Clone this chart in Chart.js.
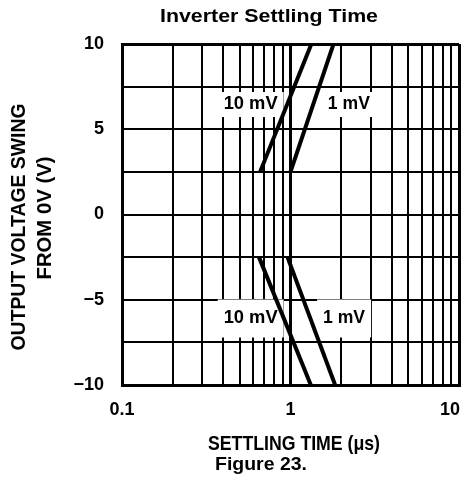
<!DOCTYPE html>
<html>
<head>
<meta charset="utf-8">
<script src="https://cdn.jsdelivr.net/npm/chart.js@4/dist/chart.umd.min.js"></script>
<style>
  body { margin: 0; background: #fff; }
  canvas { display: block; }
</style>
</head>
<body>
<canvas id="chart" width="468" height="486"></canvas>
<script>
const TITLE = 'Inverter Settling Time';
const X_TITLE = 'SETTLING TIME (\u03bcs)';
const Y_TITLE = ['OUTPUT VOLTAGE SWING', 'FROM 0V (V)'];
const CAPTION = 'Figure 23.';

// log grid 0.1 .. 10
const X_GRID = [0.1, 0.2, 0.3, 0.4, 0.5, 0.6, 0.7, 0.8, 0.9, 1, 2, 3, 4, 5, 6, 7, 8, 9, 10];
const X_LABELS = [0.1, 1, 10];
const Y_GRID = [-10, -7.5, -5, -2.5, 0, 2.5, 5, 7.5, 10];
const Y_LABELS = [10, 5, 0, -5, -10];

// settling curves
const POS_10MV_X = [0.66, 1.33];
const POS_10MV_Y = [2.5, 10];
const POS_1MV_X = [1.0, 1.8];
const POS_1MV_Y = [2.5, 10];
const NEG_10MV_X = [0.65, 1.32];
const NEG_10MV_Y = [-2.5, -10];
const NEG_1MV_X = [0.96, 1.84];
const NEG_1MV_Y = [-2.5, -10];

const CURVE_TEXT = ['10 mV', '1 mV', '10 mV', '1 mV'];
const CURVE_TEXT_X = [0.58, 2.22, 0.58, 2.08];
const CURVE_TEXT_Y = [6.45, 6.45, -6.1, -6.1];

function pts(xs, ys) {
    return xs.map((x, i) => ({ x: x, y: ys[i] }));
}

function font(size) {
    return 'bold ' + size + 'px "Liberation Sans", Arial, sans-serif';
}

// draw text, optionally squeezed/stretched to a width
function drawText(ctx, text, x, y, size, width, rot, align) {
    ctx.save();
    ctx.translate(x, y);
    if (rot) ctx.rotate(rot);
    ctx.font = font(size);
    if (width) {
        const w = ctx.measureText(text).width;
        ctx.scale(width / w, 1);
    }
    ctx.textAlign = align || 'center';
    ctx.textBaseline = 'middle';
    ctx.fillStyle = '#000';
    ctx.fillText(text, 0, 0);
    ctx.restore();
}

const labelW = [54, 42, 54, 42];
const boxH = [25, 25, 38, 38];

const curveLabels = {
    id: 'curveLabels',
    beforeDatasetsDraw(chart) {
        const ctx = chart.ctx;
        const xs = chart.scales.x, ys = chart.scales.y;
        CURVE_TEXT.forEach((t, i) => {
            const px = xs.getPixelForValue(CURVE_TEXT_X[i]);
            const py = ys.getPixelForValue(CURVE_TEXT_Y[i]);
            ctx.fillStyle = '#fff';
            ctx.fillRect(px - labelW[i] / 2 - 6, py - boxH[i] / 2, labelW[i] + 12, boxH[i]);
        });
    },
    afterDraw(chart) {
        const ctx = chart.ctx;
        const xs = chart.scales.x, ys = chart.scales.y;
        CURVE_TEXT.forEach((t, i) => {
            drawText(ctx, t, xs.getPixelForValue(CURVE_TEXT_X[i]), ys.getPixelForValue(CURVE_TEXT_Y[i]), 18, labelW[i]);
        });

        // tick labels
        ctx.save();
        ctx.font = font(18);
        ctx.fillStyle = '#000';
        ctx.textAlign = 'right';
        ctx.textBaseline = 'middle';
        Y_LABELS.forEach(v => {
            const s = v < 0 ? '\u2212' + Math.abs(v) : String(v);
            ctx.fillText(s, 104, ys.getPixelForValue(v));
        });
        ctx.restore();
        X_LABELS.forEach((v, i) => {
            const last = i === X_LABELS.length - 1;
            drawText(ctx, String(v), xs.getPixelForValue(v) + (last ? 1 : 0), 410, 18, 0, 0, last ? 'right' : 'center');
        });

        drawText(ctx, TITLE, 269, 17, 19, 218);
        drawText(ctx, X_TITLE, 294, 444, 21, 172);
        drawText(ctx, CAPTION, 261, 465, 18, 92);
        drawText(ctx, Y_TITLE[0], 19.5, 227, 21, 247, -Math.PI / 2);
        drawText(ctx, Y_TITLE[1], 45, 218, 21, 123, -Math.PI / 2);
    }
};

function edgeWidth(c, n) {
    return (c.index === 0 || c.index === n - 1) ? 3 : 2;
}

const line = { showLine: true, borderColor: '#000', borderWidth: 4, pointRadius: 0, fill: false };

new Chart(document.getElementById('chart'), {
    type: 'scatter',
    data: {
        datasets: [
            Object.assign({ label: '10 mV +', data: pts(POS_10MV_X, POS_10MV_Y) }, line),
            Object.assign({ label: '1 mV +', data: pts(POS_1MV_X, POS_1MV_Y) }, line),
            Object.assign({ label: '10 mV -', data: pts(NEG_10MV_X, NEG_10MV_Y) }, line),
            Object.assign({ label: '1 mV -', data: pts(NEG_1MV_X, NEG_1MV_Y) }, line)
        ]
    },
    options: {
        responsive: false,
        animation: false,
        layout: { padding: { left: 122, top: 44, right: 9, bottom: 101 } },
        plugins: { legend: { display: false }, tooltip: { enabled: false } },
        scales: {
            x: {
                type: 'logarithmic',
                min: 0.1,
                max: 10,
                afterBuildTicks: s => { s.ticks = X_GRID.map(v => ({ value: v })); },
                ticks: { display: false },
                grid: {
                    color: '#000',
                    drawTicks: false,
                    lineWidth: c => X_LABELS.includes(c.tick && c.tick.value) ? 3 : 2
                },
                border: { display: true, color: '#000', width: 3 }
            },
            y: {
                min: -10,
                max: 10,
                afterBuildTicks: s => { s.ticks = Y_GRID.map(v => ({ value: v })); },
                ticks: { display: false },
                grid: {
                    color: '#000',
                    drawTicks: false,
                    lineWidth: c => edgeWidth(c, Y_GRID.length)
                },
                border: { display: true, color: '#000', width: 3 }
            }
        }
    },
    plugins: [curveLabels]
});
</script>
</body>
</html>
